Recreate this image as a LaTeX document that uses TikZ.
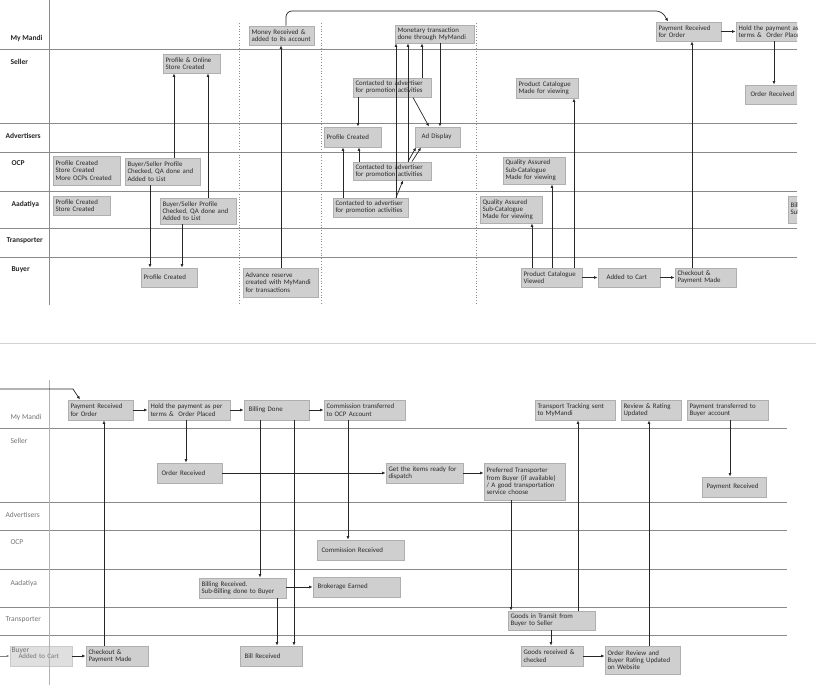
\documentclass[tikz,border=0pt]{standalone}
\usepackage{fontspec}
\setmainfont{Carlito}
\usetikzlibrary{arrows.meta}
\definecolor{bxfill}{HTML}{CFCFCF}
\definecolor{bxdraw}{HTML}{AFAFAF}
\definecolor{lanec}{HTML}{8A8A8A}
\definecolor{txt}{HTML}{2A2A2A}
\tikzset{
  box/.style={fill=bxfill,draw=bxdraw,line width=0.9pt,inner sep=0pt,align=left,text=txt,font=\fontsize{6.9}{7.3}\selectfont,execute at begin node={\hyphenpenalty=10000\relax}},
  arr/.style={draw=black!85,line width=0.7pt,-{Latex[length=3.5pt,width=3pt]}},
  lane/.style={draw=lanec,line width=0.8pt},
  lbl/.style={anchor=west,font=\fontsize{7.5}{9}\selectfont\bfseries,text=black!85},
  lblg/.style={anchor=west,font=\fontsize{7.5}{9}\selectfont,text=black!55},
  dots/.style={draw=black!45,line width=0.8pt,dotted}
}
\newcommand\bx[6]{\pgfmathsetmacro\bw{#4-#2}\pgfmathsetmacro\bh{#5-#3}\pgfmathsetmacro\tw{#4-#2-5}%
\node[box,minimum width=\bw pt,minimum height=\bh pt,text width=\tw pt] (#1) at ({(#2+#4)/2},{(#3+#5)/2}) {#6};}
\begin{document}
\begin{tikzpicture}[x=1pt,y=-1pt]
\useasboundingbox (0,0) rectangle (816,700);
% ---------- top panel ----------
\begin{scope}
\clip (0,0) rectangle (797,310);
\foreach \y in {49,123,152,191,228,257} \draw[lane] (0,\y) -- (797,\y);
\draw[lane] (49,0) -- (49,305);
\draw[dots] (239,23) -- (239,305);
\draw[dots] (321,23) -- (321,305);
\draw[dots] (476,23) -- (476,305);
\node[lbl] (l1) at (7,38) {My Mandi};
\node[lbl] (l2) at (7,62) {Seller};
\node[lbl] (l3) at (2,136) {Advertisers};
\node[lbl] (l4) at (8,163) {OCP};
\node[lbl] (l5) at (8,204) {Aadatiya};
\node[lbl] (l6) at (3,241) {Transporter};
\node[lbl] (l7) at (8,270) {Buyer};

\bx{spro}{163}{54}{220}{73}{Profile \& Online\\Store Created}
\bx{ocpp}{53}{156}{120}{185}{Profile Created\\Store Created\\More OCPs Created}
\bx{ocpchk}{125}{158}{200}{185}{Buyer/Seller Profile\\Checked, QA done and\\Added to List}
\bx{aap}{53}{196}{110}{215}{Profile Created\\Store Created}
\bx{aachk}{160}{198}{236}{224}{Buyer/Seller Profile\\Checked, QA done and\\Added to List}
\bx{bprof}{141}{268}{197}{287}{Profile Created}
\bx{money}{249}{26}{314}{45}{Money Received \&\\added to its account}
\bx{adv}{243}{268}{318}{297}{Advance reserve\\created with MyMandi\\for transactions}
\bx{mon}{395}{25}{474}{43}{Monetary transaction\\done through MyMandi}
\bx{cs}{353}{78}{431}{97}{Contacted to advertiser\\for promotion activities}
\bx{apc}{324}{127}{381}{147}{Profile Created}
\bx{ad}{415}{127}{460}{147}{\hspace{4pt}Ad Display}
\bx{co}{353}{162}{431}{180}{Contacted to advertiser\\for promotion activities}
\bx{ca}{333}{198}{408}{217}{Contacted to advertiser\\for promotion activities}
\bx{pcm}{516}{78}{578}{98}{Product Catalogue\\Made for viewing}
\bx{qao}{503}{157}{565}{184}{Quality Assured\\Sub-Catalogue\\Made for viewing}
\bx{qaa}{480}{196}{542}{223}{Quality Assured\\Sub-Catalogue\\Made for viewing}
\bx{pcv}{521}{268}{582}{287}{Product Catalogue\\Viewed}
\bx{atc}{598}{268}{660}{287}{\hspace{6pt}Added to Cart}
\bx{chk}{675}{268}{736}{287}{Checkout \&\\Payment Made}
\bx{pro}{656}{22}{721}{41}{Payment Received\\for Order}
\bx{hold}{736}{22}{830}{41}{Hold the payment as per\\terms \&\ \ Order Placed}
\bx{ordr}{745}{85}{812}{104}{\hspace{3pt}Order Received}
\bx{bsub}{788}{196}{880}{223}{Billing Received.\\Sub-Billing done to Buyer}

\draw[arr] (ocpchk.south -| 150,0) -- (bprof.north -| 150,0);
\draw[arr] (ocpchk.north -| 174,0) -- (spro.south -| 174,0);
\draw[arr] (aachk.north -| 208,0) -- (spro.south -| 208,0);
\draw[arr] (aachk.south -| 182,0) -- (bprof.north -| 182,0);
\draw[arr] (adv.north -| 281,0) -- (money.south -| 281,0);
\draw[arr,rounded corners=6pt] (money.north -| 286,0) -- (286,11) -- (662,11) -- (pro.north -| 668,0);
\draw[arr] (cs.south -| 358,0) -- (apc.north -| 358,0);
\draw[arr] (cs.south -| 413,0) -- (ad.north -| 429,0);
\draw[arr] (mon.south -| 440,0) -- (ad.north -| 440,0);
\draw[arr] (cs.north -| 422,0) -- (mon.south -| 422,0);
\draw[arr] (ca.north -| 396,0) -- (mon.south -| 396,0);
\draw[arr] (co.north -| 408,0) -- (mon.south -| 408,0);
\draw[arr] (co.north -| 408,0) -- (ad.south -| 416,0);
\draw[arr] (co.north -| 412,0) -- (ad.south -| 421,0);
\draw[arr] (ca.north -| 396,0) -- (co.south -| 403,0);
\draw[arr] (ca.north -| 343,0) -- (apc.south -| 343,0);
\draw[arr] (co.north -| 359,0) -- (apc.south -| 359,0);
\draw[arr] (pcv.north -| 532,0) -- (qaa.south -| 532,0);
\draw[arr] (pcv.north -| 552,0) -- (qao.south -| 552,0);
\draw[arr] (pcv.north -| 574,0) -- (pcm.south -| 574,0);
\draw[arr] (pcv) -- (atc);
\draw[arr] (atc) -- (chk);
\draw[arr] (chk.north -| 692,0) -- (pro.south -| 692,0);
\draw[arr] (pro) -- (hold);
\draw[arr] (hold.south -| 774,0) -- (ordr.north -| 774,0);
\end{scope}

\draw[draw=red!25,line width=0.6pt] (0,343) -- (816,343);

% ---------- bottom panel ----------
\foreach \y in {428,502,530,569,607,635} \draw[lane] (0,\y) -- (787,\y);
\node[lblg] (m1) at (7,417) {My Mandi};
\node[lblg] (m2) at (7,441) {Seller};
\node[lblg] (m3) at (2,515) {Advertisers};
\node[lblg] (m4) at (7,542) {OCP};
\node[lblg] (m5) at (7,583) {Aadatiya};
\node[lblg] (m6) at (2,620) {Transporter};

\bx{pro2}{68}{400}{133}{420}{Payment Received\\for Order}
\bx{hold2}{148}{400}{230}{420}{Hold the payment as per\\terms \&\ \ Order Placed}
\bx{bill}{244}{400}{309}{420}{\hspace{2pt}Billing Done}
\bx{comt}{324}{400}{405}{420}{Commission transferred\\to OCP Account}
\bx{ordr2}{157}{463}{222}{483}{\hspace{2pt}Order Received}
\bx{comr}{317}{540}{404}{560}{\hspace{2pt}Commission Received}
\bx{billr}{199}{578}{286}{598}{Billing Received.\\Sub-Billing done to Buyer}
\bx{brok}{313}{577}{400}{597}{\hspace{2pt}Brokerage Earned}
\bx{atc2}{10}{646}{72}{666}{\hspace{6pt}Added to Cart}
\bx{chk2}{86}{646}{148}{666}{Checkout \&\\Payment Made}
\bx{billrec}{240}{646}{302}{666}{\hspace{2pt}Bill Received}
\bx{ready}{386}{463}{463}{483}{Get the items ready for\\dispatch}
\bx{pref}{484}{463}{565}{500}{Preferred Transporter\\from Buyer (if available)\\/ A good transportation\\service choose}
\bx{payr}{702}{477}{766}{497}{\hspace{2pt}Payment Received}
\bx{track}{535}{400}{615}{420}{Transport Tracking sent\\to MyMandi}
\bx{rev}{621}{400}{681}{420}{Review \& Rating\\Updated}
\bx{payt}{687}{400}{768}{420}{Payment transferred to\\Buyer account}
\bx{transit}{508}{611}{595}{630}{Goods in Transit from\\Buyer to Seller}
\bx{grec}{521}{646}{583}{666}{Goods received \&\\checked}
\bx{orev}{605}{646}{680}{674}{Order Review and\\Buyer Rating Updated\\on Website}
\fill[white,opacity=0.35] (9,645) rectangle (73,667);
\node[lblg,anchor=base west] (m7) at (8,652) {Buyer};
\draw[draw=black!30,line width=0.8pt] (49,380) -- (49,685);

\coordinate (lin) at (0,656);
\draw[draw=black!50,line width=0.6pt,-{Latex[length=3pt,width=2.5pt]}] (lin) -- (atc2.west);
\draw[arr] (0,389) -- (73,389) -- (pro2.north -| 80,0);
\draw[arr] (atc2) -- (chk2);
\draw[arr] (chk2.north -| 104,0) -- (pro2.south -| 104,0);
\draw[arr] (pro2) -- (hold2);
\draw[arr] (hold2) -- (bill);
\draw[arr] (bill) -- (comt);
\draw[arr] (hold2.south -| 186,0) -- (ordr2.north -| 186,0);
\draw[arr] (ordr2) -- (ready);
\draw[arr] (bill.south -| 260,0) -- (billr.north -| 260,0);
\draw[arr] (bill.south -| 294,0) -- (billrec.north -| 294,0);
\draw[arr] (comt.south -| 348,0) -- (comr.north -| 348,0);
\draw[arr] (billr.east |- brok.west) -- (brok.west);
\draw[arr] (billr.south -| 277,0) -- (billrec.north -| 277,0);
\draw[arr] (ready) -- (ready -| pref.west);
\draw[arr] (pref.south -| 511,0) -- (transit.north -| 511,0);
\draw[arr] (transit.north -| 578,0) -- (track.south -| 578,0);
\draw[arr] (transit.south -| 551,0) -- (grec.north -| 551,0);
\draw[arr] (grec) -- (grec -| orev.west);
\draw[arr] (orev.north -| 649,0) -- (rev.south -| 649,0);
\draw[arr] (payt.south -| 730,0) -- (payr.north -| 730,0);
\end{tikzpicture}
\end{document}
